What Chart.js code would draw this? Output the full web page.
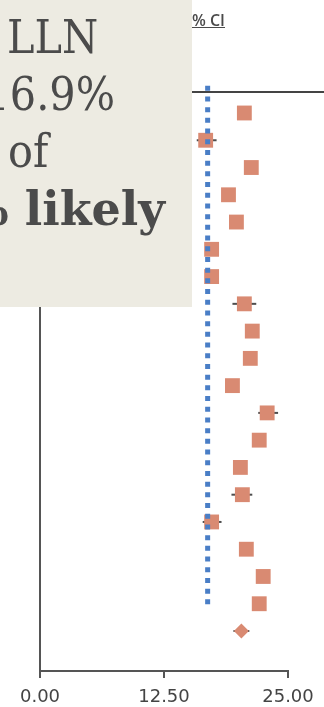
<!DOCTYPE html>
<html>
<head>
<meta charset="utf-8">
<script src="https://cdn.jsdelivr.net/npm/chart.js@4/dist/chart.umd.min.js"></script>
<style>
    html, body { margin: 0; padding: 0; background: #ffffff; }
    #wrap { position: relative; width: 324px; height: 707px; overflow: hidden; }
    #forest { position: absolute; left: 0; top: 0; }
    .note {
        position: absolute; left: 0; top: 0; width: 192px; height: 307px;
        background: #edebe2; overflow: hidden;
        font-family: "DejaVu Serif", serif; font-size: 46px; color: #4b4b4b;
    }
    .note div { position: absolute; white-space: nowrap; line-height: 46px; font-stretch: condensed; }
    .note .strong { font-weight: bold; font-stretch: normal; }
    .ci-head {
        position: absolute; left: 192px; top: 9px;
        font-family: "Open Sans", sans-serif; font-size: 16px; font-weight: 600;
        color: #4a4a4a; text-decoration: underline;
    }
</style>
</head>
<body>
<div id="wrap">
    <canvas id="forest" width="324" height="707"></canvas>
    <div class="ci-head">% CI</div>
    <div class="note">
        <div style="left: 7px; top: 14px;">LLN</div>
        <div style="right: 77px; top: 71px;">16.9%</div>
        <div style="left: 8px; top: 128px;">of</div>
        <div class="strong" style="right: 27px; top: 186px;">% likely</div>
    </div>
</div>
<script>
    // one row per study, pooled estimate in the last row
    const studyRows = [1, 2, 3, 4, 5, 6, 7, 8, 9, 10, 11, 12, 13, 14, 15, 16, 17, 18, 19];
    const studyMeans = [20.6, 16.7, 21.3, 19.0, 19.8, 17.3, 17.3, 20.6, 21.4, 21.2, 19.4, 22.9, 22.1, 20.2, 20.4, 17.3, 20.8, 22.5, 22.1];
    const studyLower = [null, 15.8, null, null, null, null, null, 19.4, null, null, null, 22.0, null, null, 19.3, 16.4, null, null, null];
    const studyUpper = [null, 17.8, null, null, null, null, null, 21.8, null, null, null, 24.0, null, null, 21.4, 18.3, null, null, null];

    const pooledRow = [20];
    const pooledMean = [20.3];
    const pooledLower = [19.5];
    const pooledUpper = [21.1];

    const llnValue = 16.9;
    const llnRows = [0, 19.1];
    const xTicks = [0, 12.5, 25];

    const colours = {
        marker: "#d98a72",
        whisker: "#4d4d4d",
        axis: "#555555",
        lln: "#4a7ec6",
        text: "#444444"
    };

    function toPoints(rows, values) {
        return rows.map((row, index) => ({ x: values[index], y: row }));
    }

    const whiskerPlugin = {
        id: "whiskers",
        beforeDatasetsDraw(chart) {
            const { ctx, scales } = chart;
            const ranges = [[studyRows, studyLower, studyUpper], [pooledRow, pooledLower, pooledUpper]];

            ctx.save();
            ctx.strokeStyle = colours.whisker;
            ctx.lineWidth = 2;
            ranges.forEach(([rows, lower, upper]) => {
                rows.forEach((row, index) => {
                    if (lower[index] === null) {
                        return;
                    }
                    const y = scales.y.getPixelForValue(row);
                    ctx.beginPath();
                    ctx.moveTo(scales.x.getPixelForValue(lower[index]), y);
                    ctx.lineTo(scales.x.getPixelForValue(upper[index]), y);
                    ctx.stroke();
                });
            });
            ctx.restore();
        }
    };

    const llnPlugin = {
        id: "llnLine",
        afterDatasetsDraw(chart) {
            const { ctx, scales } = chart;
            const x = scales.x.getPixelForValue(llnValue);

            ctx.save();
            ctx.strokeStyle = colours.lln;
            ctx.lineWidth = 5;
            ctx.setLineDash([5, 5.7]);
            ctx.beginPath();
            ctx.moveTo(x, scales.y.getPixelForValue(llnRows[0]));
            ctx.lineTo(x, scales.y.getPixelForValue(llnRows[1]));
            ctx.stroke();
            ctx.restore();
        },
        afterDraw(chart) {
            // header rule across the top of the plot
            const { ctx, chartArea } = chart;

            ctx.save();
            ctx.strokeStyle = "#444444";
            ctx.lineWidth = 2;
            ctx.beginPath();
            ctx.moveTo(0, chartArea.top);
            ctx.lineTo(chart.width, chartArea.top);
            ctx.stroke();
            ctx.restore();
        }
    };

    new Chart(document.getElementById("forest"), {
        type: "scatter",
        data: {
            datasets: [
                {
                    label: "Studies",
                    data: toPoints(studyRows, studyMeans),
                    pointStyle: "rect",
                    pointRadius: 10.5,
                    pointHoverRadius: 10.5,
                    backgroundColor: colours.marker,
                    borderWidth: 0
                },
                {
                    label: "Pooled",
                    data: toPoints(pooledRow, pooledMean),
                    pointStyle: "rectRot",
                    pointRadius: 7.5,
                    pointHoverRadius: 7.5,
                    backgroundColor: colours.marker,
                    borderWidth: 0
                }
            ]
        },
        options: {
            responsive: false,
            animation: false,
            layout: { padding: { left: 40, top: 92, right: 36, bottom: 0 } },
            plugins: {
                legend: { display: false },
                tooltip: { enabled: false }
            },
            scales: {
                x: {
                    type: "linear",
                    min: 0,
                    max: 25,
                    afterBuildTicks: (scale) => {
                        scale.ticks = xTicks.map((value) => ({ value }));
                    },
                    afterFit: (scale) => {
                        scale.height = 36;
                    },
                    ticks: {
                        color: colours.text,
                        font: { family: "DejaVu Sans", size: 18 },
                        padding: 9,
                        maxRotation: 0,
                        callback: (value) => Number(value).toFixed(2)
                    },
                    grid: {
                        drawOnChartArea: false,
                        drawTicks: true,
                        tickLength: 7,
                        color: colours.axis,
                        lineWidth: 2
                    },
                    border: { color: colours.axis, width: 2 }
                },
                y: {
                    type: "linear",
                    reverse: true,
                    min: 0.23,
                    max: 21.467,
                    afterFit: (scale) => {
                        scale.width = 0;
                    },
                    ticks: { display: false },
                    grid: { display: false },
                    border: { display: true, color: colours.axis, width: 2 }
                }
            }
        },
        plugins: [whiskerPlugin, llnPlugin]
    });
</script>
</body>
</html>
